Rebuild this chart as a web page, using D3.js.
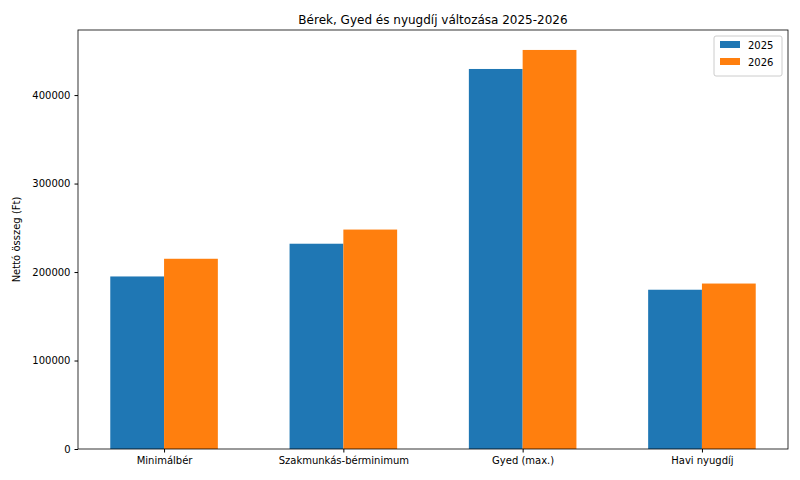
<!DOCTYPE html>
<html><head><meta charset="utf-8">
<script src="https://cdn.jsdelivr.net/npm/d3@7"></script>
<style>body{margin:0;background:#fff;font-family:"DejaVu Sans",sans-serif;}</style>
</head><body><svg width="800" height="480"></svg>
<script>
var categories = ['Minimálbér', 'Szakmunkás-bérminimum', 'Gyed (max.)', 'Havi nyugdíj'];
var values2025 = [195000, 232000, 429500, 180000];
var values2026 = [215000, 248000, 451000, 187000];
var seriesNames = ['2025', '2026'];
var colors = ['#1f77b4', '#ff7f0e'];

var svg = d3.select('svg');
var m = {l: 78, r: 12, t: 30, b: 31};
var w = 800 - m.l - m.r, h = 480 - m.t - m.b;
var g = svg.append('g').attr('transform', 'translate(' + m.l + ',' + m.t + ')');

var x = d3.scaleLinear().domain([-0.48, 3.48]).range([0, w]);
var maxV = d3.max(values2025.concat(values2026));
var y = d3.scaleLinear().domain([0, maxV * 1.05]).range([h, 0]);
var bw = 0.3;

// bars for each series
[values2025, values2026].forEach(function(vals, s) {
  g.selectAll('.b' + s).data(vals).enter().append('rect')
    .attr('x', function(d, i) { return x(i - bw + s * bw); })
    .attr('width', x(bw) - x(0))
    .attr('y', function(d) { return y(d); })
    .attr('height', function(d) { return h - y(d); })
    .attr('fill', colors[s]);
});

var xa = g.append('g').attr('transform', 'translate(0,' + h + ')')
  .call(d3.axisBottom(x).tickValues([0, 1, 2, 3]).tickFormat(function(d) { return categories[d]; }).tickSizeOuter(0).tickSize(3.5).tickPadding(4));
var ya = g.append('g')
  .call(d3.axisLeft(y).tickValues([0, 100000, 200000, 300000, 400000]).tickFormat(d3.format('d')).tickSizeOuter(0).tickSize(3.5).tickPadding(4));
[xa, ya].forEach(function(a) {
  a.selectAll('text').attr('font-size', 10).attr('fill', '#000').attr('font-family', 'DejaVu Sans');
  a.select('.domain').remove();
});

g.append('rect').attr('width', w).attr('height', h).attr('fill', 'none').attr('stroke', '#000').attr('stroke-width', 0.8);

svg.append('text').attr('x', m.l + w / 2).attr('y', 24).attr('text-anchor', 'middle')
  .attr('font-size', 12).text('Bérek, Gyed és nyugdíj változása 2025-2026');
svg.append('text').attr('transform', 'translate(20,' + (m.t + h / 2) + ') rotate(-90)')
  .attr('text-anchor', 'middle').attr('font-size', 10).text('Nettó összeg (Ft)');

// legend
var lg = svg.append('g').attr('transform', 'translate(' + (m.l + w - 74) + ',' + (m.t + 6) + ')');
lg.append('rect').attr('width', 68).attr('height', 40).attr('fill', '#fff').attr('stroke', '#ccc').attr('rx', 2);
seriesNames.forEach(function(n, i) {
  lg.append('rect').attr('x', 6).attr('y', 5 + i * 17).attr('width', 20).attr('height', 7).attr('fill', colors[i]);
  lg.append('text').attr('x', 34).attr('y', 12.5 + i * 17).attr('font-size', 10).text(n);
});
</script></body></html>
